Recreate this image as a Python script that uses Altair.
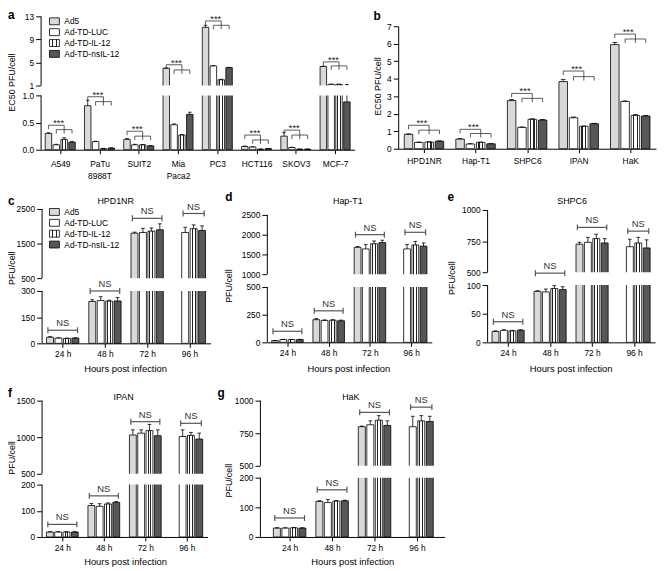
import json
import altair as alt
import pandas as pd

FONT = "Liberation Sans"
W, H = 659, 563

SERIES = ["Ad5", "Ad-TD-LUC", "Ad-TD-IL-12", "Ad-TD-nsIL-12"]

# ---------------- panel a : EC50 in cell lines
A_CATS = ["A549", "PaTu\n8988T", "SUIT2", "Mia\nPaca2", "PC3", "HCT116", "SKOV3", "MCF-7"]
A_MEAN = [
    [0.30, 0.09, 0.19, 0.14],
    [0.81, 0.15, 0.02, 0.03],
    [0.19, 0.09, 0.09, 0.07],
    [4.00, 0.46, 0.27, 0.65],
    [11.1, 4.40, 2.00, 4.10],
    [0.06, 0.05, 0.01, 0.02],
    [0.25, 0.04, 0.01, 0.01],
    [4.30, 1.20, 1.20, 0.88],
]
A_ERR = [
    [0.01, 0.01, 0.03, 0.01],
    [0.10, 0.005, 0.004, 0.004],
    [0.015, 0.01, 0.006, 0.006],
    [0.05, 0.015, 0.01, 0.04],
    [0.35, 0.05, 0.08, 0.05],
    [0.006, 0.005, 0.003, 0.003],
    [0.07, 0.006, 0.003, 0.003],
    [0.05, 0.03, 0.03, 0.30],
]
A_SIG = [[0.45, 0.37], [0.975, 0.885], [0.34, 0.25], [4.6, 3.7],
         [12.2, 11.45], [0.27, 0.18], [0.36, 0.27], [5.1, 4.4]]
A_YTICKS = [0, 0.5, 1.0, 1.0001, 5, 9, 13]

# ---------------- panel b : EC50 in hamster lines
B_CATS = ["HPD1NR", "Hap-T1", "SHPC6", "IPAN", "HaK"]
B_MEAN = [
    [0.82, 0.36, 0.38, 0.43],
    [0.55, 0.27, 0.36, 0.28],
    [2.75, 1.22, 1.68, 1.64],
    [3.84, 1.77, 1.28, 1.43],
    [5.95, 2.70, 1.90, 1.87],
]
B_ERR = [
    [0.03, 0.02, 0.02, 0.02],
    [0.03, 0.02, 0.02, 0.02],
    [0.06, 0.02, 0.03, 0.03],
    [0.12, 0.04, 0.02, 0.02],
    [0.12, 0.03, 0.05, 0.03],
]
B_SIG = [[1.34, 1.06], [1.11, 0.87], [3.16, 2.88], [4.44, 4.12], [6.55, 6.27]]
B_YTICKS = [0, 1, 2, 3, 4, 5, 6, 7]

# ---------------- panels c-g : replication over time
HOURS = ["24 h", "48 h", "72 h", "96 h"]

C_MEAN = [[35, 30, 28, 30], [240, 245, 242, 243], [1800, 1820, 1860, 1900], [None, 1820, 1930, 1880]]
C_ERR = [[3, 2, 2, 2], [10, 22, 5, 20], [30, 120, 90, 170], [None, 150, 110, 130]]
C_NS = [75, 300, 2230, 2370]
C_YTICKS = [0, 150, 300, 500, 1500, 2500]

D_MEAN = [[15, 25, 25, 25], [205, 198, 200, 195], [1680, 1640, 1770, 1800], [None, 1640, 1740, 1710]]
D_ERR = [[2, 2, 2, 2], [10, 5, 5, 6], [20, 110, 70, 60], [None, 110, 90, 80]]
D_NS = [100, 285, 2000, 2060]
D_YTICKS = [0, 250, 500, 1000, 1500, 2000, 2500]

E_MEAN = [[19, 21, 20, 21], [89, 88, 94, 92], [725, 740, 770, 735], [None, 705, 735, 695]]
E_ERR = [[1, 1, 1, 1], [1, 5, 5, 5], [15, 40, 35, 35], [None, 60, 45, 65]]
E_NS = [36, 470, 860, 830]
E_YTICKS = [0, 50, 100, 500, 750, 1000]

F_MEAN = [[19, 19, 19, 19], [120, 117, 126, 132], [1030, 1055, 1090, 1020], [None, 1010, 1025, 975]]
F_ERR = [[1, 1, 1, 1], [8, 10, 4, 3], [70, 45, 85, 80], [None, 90, 40, 80]]
F_NS = [48, 157, 1212, 1190]
F_YTICKS = [0, 100, 200, 500, 1000, 1500]

G_MEAN = [[30, 30, 31, 30], [120, 116, 121, 122], [800, 815, 850, 810], [None, 800, 845, 840]]
G_ERR = [[1, 1, 1, 1], [2, 10, 2, 2], [5, 30, 35, 35], [None, 80, 40, 40]]
G_NS = [64, 159, 910, 950]
G_YTICKS = [0, 100, 200, 500, 750, 1000]

# ---------------- styling
STEP = 0.2     # distance between bars in a group (category units)
BW = 0.165     # bar width
CAP = 0.045    # half width of error caps
GREY = "#d9d9d9"
DARK = "#575757"
_stops = [(0, "white"), (0.22, "white"), (0.22, "#222"), (0.36, "#222"), (0.36, "white"),
          (0.64, "white"), (0.64, "#222"), (0.78, "#222"), (0.78, "white"), (1, "white")]
STRIPES = alt.LinearGradient(gradient="linear", x1=0, y1=0, x2=1, y2=0,
                             stops=[alt.GradientStop(color=c, offset=o) for o, c in _stops])
FILLS = [GREY, "white", STRIPES, DARK]


def bars_df(mean, err):
    rows = []
    for i, (mr, er) in enumerate(zip(mean, err)):
        for j, (m, e) in enumerate(zip(mr, er)):
            if m is None:
                continue
            c = i + (j - 1.5) * STEP
            rows.append({"j": j, "c": c, "lo": c - BW / 2, "hi": c + BW / 2, "val": m,
                         "base": 0.0, "top": m + e, "cl": c - CAP, "cr": c + CAP})
    return pd.DataFrame(rows)


def sig_frames(sig):
    h, v, t = [], [], []
    for i, (top, low) in enumerate(sig):
        p0, p1, p3 = i - 1.5 * STEP, i - 0.5 * STEP, i + 1.5 * STEP
        mid = (p1 + p3) / 2
        h += [{"x": p0, "x2": mid, "y": top}, {"x": p1, "x2": p3, "y": low}]
        v += [{"x": p0, "y": top, "y2": top}, {"x": mid, "y": top, "y2": low},
              {"x": p1, "y": low, "y2": low}, {"x": p3, "y": low, "y2": low}]
        t.append({"x": p0 + 0.65 * (mid - p0), "y": top, "t": "***"})
    return pd.DataFrame(h), pd.DataFrame(v), pd.DataFrame(t)


def ns_frames(ns, mean):
    h, t = [], []
    for i, y in enumerate(ns):
        first = next(j for j, m in enumerate(mean[i]) if m is not None)
        left = i + (first - 1.5) * STEP - 0.05
        right = i + 1.5 * STEP + 0.05
        h.append({"x": left, "x2": right, "y": y, "xm": (left + right) / 2, "t": "NS"})
        t.append({"x": left, "y": y})
        t.append({"x": right, "y": y})
    return pd.DataFrame(h), pd.DataFrame(t)


def text(txt, x, y, size=9.0, bold=False, angle=0, align="center", baseline="middle"):
    return alt.Chart(pd.DataFrame({"t": [txt]})).mark_text(
        font=FONT, fontSize=size, fontWeight="bold" if bold else "normal", angle=angle,
        align=align, baseline=baseline, color="black"
    ).encode(text="t:N", x=alt.value(x), y=alt.value(y))


def legend(x0, rows):
    layers = []
    for name, fill, y in zip(SERIES, FILLS, rows):
        d = pd.DataFrame({"t": [name]})
        layers.append(alt.Chart(d).mark_rect(fill=fill, stroke="black", strokeWidth=0.8).encode(
            x=alt.value(x0), x2=alt.value(x0 + 10), y=alt.value(y - 3.5), y2=alt.value(y + 3.5)))
        layers.append(alt.Chart(d).mark_text(font=FONT, fontSize=8.5, align="left", baseline="middle",
                                             color="black").encode(
            text="t:N", x=alt.value(x0 + 15), y=alt.value(y)))
    return layers


def panel(mean, err, xlabels, xdom, xrng, ydom, yrng, yticks, ylabel_expr=None,
          label_pad=3, multiline=False, sig=None, ns=None):
    xs = alt.Scale(domain=xdom, range=xrng, nice=False, zero=False)
    ys = alt.Scale(domain=ydom, range=yrng, nice=False, zero=False)
    broken = len(ydom) == 4
    axis_px = xrng[0]
    if multiline:
        lexpr = "split(" + json.dumps(xlabels) + "[round(datum.value)], '\\n')"
    else:
        lexpr = json.dumps(xlabels) + "[round(datum.value)]"
    xaxis = alt.Axis(orient="bottom", offset=yrng[0] - H, values=list(range(len(xlabels))),
                     labelExpr=lexpr, title=None, tickSize=4, labelPadding=label_pad,
                     labelFlush=False, labelOverlap=False, labelLineHeight=12,
                     labelFontSize=8.5, labelFont=FONT)
    yargs = dict(orient="left", offset=-axis_px, values=yticks, title=None, tickSize=5,
                 labelPadding=2, labelFlush=False, labelOverlap=False, domain=not broken,
                 labelFontSize=8.5, labelFont=FONT)
    if ylabel_expr:
        yargs["labelExpr"] = ylabel_expr
    else:
        yargs["format"] = "d"
    yaxis = alt.Axis(**yargs)

    def X(f):
        return alt.X(f, scale=xs, axis=xaxis)

    def Y(f):
        return alt.Y(f, scale=ys, axis=yaxis)

    df = bars_df(mean, err)
    layers = []
    for j in range(4):
        sub = df[df.j == j]
        layers.append(alt.Chart(sub).mark_rect(fill=FILLS[j], stroke="black", strokeWidth=0.8).encode(
            x=X("lo:Q"), x2="hi:Q", y=Y("val:Q"), y2="base:Q"))
    layers.append(alt.Chart(df).mark_rule(color="black", strokeWidth=0.8).encode(
        x=X("c:Q"), y=Y("val:Q"), y2="top:Q"))
    layers.append(alt.Chart(df).mark_rule(color="black", strokeWidth=0.8).encode(
        x=X("cl:Q"), x2="cr:Q", y=Y("top:Q")))
    if broken:
        gap = pd.DataFrame({"lo": [ydom[1]], "hi": [ydom[2]]})
        layers.append(alt.Chart(gap).mark_rect(fill="white").encode(
            x=alt.value(axis_px + 1), x2=alt.value(xrng[1] + 2), y=Y("lo:Q"), y2="hi:Q"))
        segs = pd.DataFrame({"lo": [ydom[0], ydom[2]], "hi": [ydom[1], ydom[3]]})
        layers.append(alt.Chart(segs).mark_rule(color="black", strokeWidth=1).encode(
            x=alt.value(axis_px + 0.5), y=Y("lo:Q"), y2="hi:Q"))
    if sig is not None:
        hdf, vdf, tdf = sig_frames(sig)
        layers.append(alt.Chart(hdf).mark_rule(color="#333", strokeWidth=0.8).encode(
            x=X("x:Q"), x2="x2:Q", y=Y("y:Q")))
        layers.append(alt.Chart(vdf).mark_rule(color="#333", strokeWidth=0.8, y2Offset=4).encode(
            x=X("x:Q"), y=Y("y:Q"), y2="y2:Q"))
        layers.append(alt.Chart(tdf).mark_text(font=FONT, fontSize=9.5, baseline="alphabetic",
                                               color="#222", dy=1).encode(
            x=X("x:Q"), y=Y("y:Q"), text="t:N"))
    if ns is not None:
        hdf, tdf = ns_frames(ns, mean)
        layers.append(alt.Chart(hdf).mark_rule(color="#555", strokeWidth=1.2).encode(
            x=X("x:Q"), x2="x2:Q", y=Y("y:Q")))
        layers.append(alt.Chart(tdf).mark_rule(color="#555", strokeWidth=1.2, yOffset=-3, y2Offset=3).encode(
            x=X("x:Q"), y=Y("y:Q"), y2="y:Q"))
        layers.append(alt.Chart(hdf).mark_text(font=FONT, fontSize=9.5, baseline="alphabetic",
                                               color="#333", dy=-4).encode(
            x=X("xm:Q"), y=Y("y:Q"), text="t:N"))
    return alt.layer(*layers)


A_LABEL_EXPR = "datum.value <= 1 ? format(datum.value, '.1f') : format(datum.value, '.0f')"

pa = panel(A_MEAN, A_ERR, A_CATS, [-0.5, 7.5], [33, 351], [0, 1, 1.0001, 13], [140, 85, 75, 5],
           A_YTICKS, ylabel_expr=A_LABEL_EXPR, label_pad=6, multiline=True, sig=A_SIG)
pb = panel(B_MEAN, B_ERR, B_CATS, [-0.5, 4.5], [395, 656], [0, 7], [139, 15],
           B_YTICKS, label_pad=4, sig=B_SIG)
pc = panel(C_MEAN, C_ERR, HOURS, [-0.5, 3.5], [34, 205], [0, 300, 500, 2500], [336, 283, 270, 200],
           C_YTICKS, label_pad=2.5, ns=C_NS)
pd_ = panel(D_MEAN, D_ERR, HOURS, [-0.5, 3.5], [262, 429], [0, 500, 1000, 2500], [335, 279, 266, 206],
            D_YTICKS, label_pad=2.5, ns=D_NS)
pe = panel(E_MEAN, E_ERR, HOURS, [-0.5, 3.5], [485, 655], [0, 100, 500, 1000], [335, 277, 264, 201],
           E_YTICKS, label_pad=2.5, ns=E_NS)
pf = panel(F_MEAN, F_ERR, HOURS, [-0.5, 3.5], [34, 202], [0, 200, 500, 1500], [532, 479, 468, 394],
           F_YTICKS, label_pad=3, ns=F_NS)
pg = panel(G_MEAN, G_ERR, HOURS, [-0.7, 3.65], [255, 442], [0, 200, 500, 1000], [532, 472, 460, 394],
           G_YTICKS, label_pad=3, ns=G_NS)

annotations = [
    text("a", 0, 8, 12, bold=True, align="left", baseline="alphabetic"),
    text("b", 370, 9, 12, bold=True, align="left", baseline="alphabetic"),
    text("c", 0, 196, 12, bold=True, align="left", baseline="alphabetic"),
    text("d", 220, 192, 12, bold=True, align="left", baseline="alphabetic"),
    text("e", 445, 192, 12, bold=True, align="left", baseline="alphabetic"),
    text("f", 0, 390, 12, bold=True, align="left", baseline="alphabetic"),
    text("g", 212, 390, 12, bold=True, align="left", baseline="alphabetic"),
    text("EC50 PFU/cell", 4, 72, 9, angle=270),
    text("EC50 PFU/cell", 375, 76, 9, angle=270),
    text("HPD1NR", 109, 192, 9),
    text("Hap-T1", 344, 192, 9),
    text("SHPC6", 571, 192, 9),
    text("IPAN", 117, 390, 9),
    text("HaK", 347, 390, 9),
    text("PFU/cell", 4, 260, 9, angle=270),
    text("PFU/cell", 224, 278, 9, angle=270),
    text("PFU/cell", 449, 270, 9, angle=270),
    text("PFU/cell", 4, 452, 9, angle=270),
    text("PFU/cell", 224, 475, 9, angle=270),
    text("Hours post infection", 119, 362, 9.5),
    text("Hours post infection", 345, 362, 9.5),
    text("Hours post infection", 570, 362, 9.5),
    text("Hours post infection", 119, 557, 9.5),
    text("Hours post infection", 349, 557, 9.5),
]

chart = alt.layer(
    pa, pb, pc, pd_, pe, pf, pg,
    *legend(42, [10, 21, 32, 43]),
    *legend(42, [203, 214, 225, 236]),
    *annotations,
).resolve_scale(x="independent", y="independent").resolve_axis(
    x="independent", y="independent"
).properties(
    width=W, height=H, padding=0, autosize=alt.AutoSizeParams(type="none")
).configure_view(stroke=None).configure_axis(
    grid=False, domainColor="black", tickColor="black", labelColor="black",
    domainWidth=1, tickWidth=1
)

chart.save("out.html", embed_options={"renderer": "svg", "actions": False})
